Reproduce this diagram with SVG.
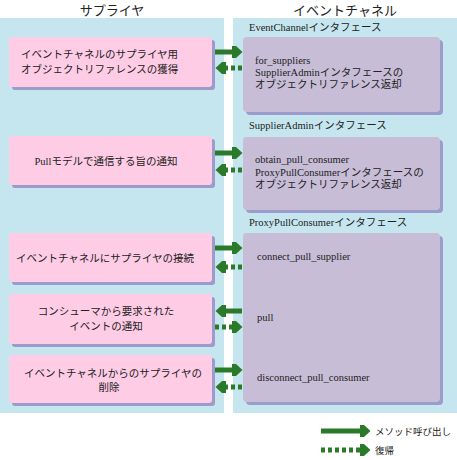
<svg xmlns="http://www.w3.org/2000/svg" width="457" height="460" viewBox="0 0 457 460">
<style>
.panel{fill:#c6e6ef}
.pink{fill:#ffcce6}
.purple{fill:#c7bdd7}
.shadow{fill:#9b9bcc}
.t{font-family:'Liberation Serif','Noto Sans CJK JP',serif;font-size:10.5px;font-weight:normal;fill:#222}
.h{font-family:'Noto Sans CJK JP','Liberation Sans',sans-serif;font-size:13px;fill:#222;text-anchor:middle}
.c{text-anchor:middle}
.lg{font-size:9.5px}
.call{stroke:#2a7a2a;stroke-width:5;fill:none;marker-end:url(#head)}
.ret{stroke:#2a7a2a;stroke-width:5;fill:none;stroke-dasharray:4,3;marker-end:url(#head)}
</style>
<defs>
<marker id="head" markerUnits="userSpaceOnUse" markerWidth="11" markerHeight="13" refX="0" refY="6.5" orient="auto" viewBox="0 0 11 13">
<path d="M0,0.5 L4,0.5 L10.5,6.5 L4,12.5 L0,12.5 Z" fill="#2a7a2a"/>
</marker>
</defs>
<rect width="457" height="460" fill="#ffffff"/>
<text class="h" x="112" y="15">サプライヤ</text>
<text class="h" x="345" y="15">イベントチャネル</text>
<rect class="panel" x="0" y="18" width="224" height="395"/>
<rect class="panel" x="233" y="18" width="224" height="395"/>

<g id="sup1">
<rect class="shadow" x="12" y="40" width="203" height="50" rx="3"/>
<rect class="pink" x="9" y="37" width="203" height="50" rx="3"/>
<text class="t" x="21" y="58">イベントチャネルのサプライヤ用</text>
<text class="t" x="21" y="73">オブジェクトリファレンスの獲得</text>
</g>
<g id="sup2">
<rect class="shadow" x="12" y="139" width="203" height="49" rx="3"/>
<rect class="pink" x="9" y="136" width="203" height="49" rx="3"/>
<text class="t c" x="106" y="165">Pullモデルで通信する旨の通知</text>
</g>
<g id="sup3">
<rect class="shadow" x="12" y="236" width="203" height="49" rx="3"/>
<rect class="pink" x="9" y="233" width="203" height="49" rx="3"/>
<text class="t c" x="105" y="262">イベントチャネルにサプライヤの接続</text>
</g>
<g id="sup4">
<rect class="shadow" x="12" y="297" width="203" height="50" rx="3"/>
<rect class="pink" x="9" y="294" width="203" height="50" rx="3"/>
<text class="t c" x="106" y="315">コンシューマから要求された</text>
<text class="t c" x="106" y="330">イベントの通知</text>
</g>
<g id="sup5">
<rect class="shadow" x="12" y="358" width="203" height="48" rx="3"/>
<rect class="pink" x="9" y="355" width="203" height="48" rx="3"/>
<text class="t c" x="113" y="377">イベントチャネルからのサプライヤの</text>
<text class="t c" x="109" y="391">削除</text>
</g>

<g id="ec">
<text class="t" x="249" y="31">EventChannelインタフェース</text>
<rect class="shadow" x="246" y="40" width="197" height="75" rx="4"/>
<rect class="purple" x="243" y="37" width="197" height="75" rx="4"/>
<text class="t" x="255" y="64">for_suppliers</text>
<text class="t" x="255" y="76">SupplierAdminインタフェースの</text>
<text class="t" x="255" y="88">オブジェクトリファレンス返却</text>
</g>
<g id="sa">
<text class="t" x="249" y="129">SupplierAdminインタフェース</text>
<rect class="shadow" x="246" y="140" width="197" height="73" rx="4"/>
<rect class="purple" x="243" y="137" width="197" height="73" rx="4"/>
<text class="t" x="255" y="163">obtain_pull_consumer</text>
<text class="t" x="255" y="176">ProxyPullConsumerインタフェースの</text>
<text class="t" x="255" y="188">オブジェクトリファレンス返却</text>
</g>
<g id="ppc">
<text class="t" x="249" y="226">ProxyPullConsumerインタフェース</text>
<rect class="shadow" x="246" y="236" width="197" height="169" rx="4"/>
<rect class="purple" x="243" y="233" width="197" height="169" rx="4"/>
<text class="t" x="257" y="260">connect_pull_supplier</text>
<text class="t" x="257" y="321">pull</text>
<text class="t" x="257" y="381">disconnect_pull_consumer</text>
</g>

<g id="connectors">
<line class="call" x1="215" y1="52" x2="232" y2="52"/>
<line class="ret" x1="242" y1="68" x2="226" y2="68"/>
<line class="call" x1="215" y1="153" x2="232" y2="153"/>
<line class="ret" x1="242" y1="170" x2="226" y2="170"/>
<line class="call" x1="215" y1="248" x2="232" y2="248"/>
<line class="ret" x1="242" y1="267" x2="226" y2="267"/>
<line class="call" x1="242" y1="311" x2="226" y2="311"/>
<line class="ret" x1="215" y1="327" x2="232" y2="327"/>
<line class="call" x1="215" y1="370" x2="232" y2="370"/>
<line class="ret" x1="242" y1="387" x2="226" y2="387"/>
</g>

<g id="legend">
<line class="call" x1="321" y1="431" x2="360" y2="431"/>
<text class="t lg" x="375" y="435">メソッド呼び出し</text>
<line class="ret" x1="321" y1="450" x2="360" y2="450"/>
<text class="t lg" x="375" y="454">復帰</text>
</g>
</svg>
